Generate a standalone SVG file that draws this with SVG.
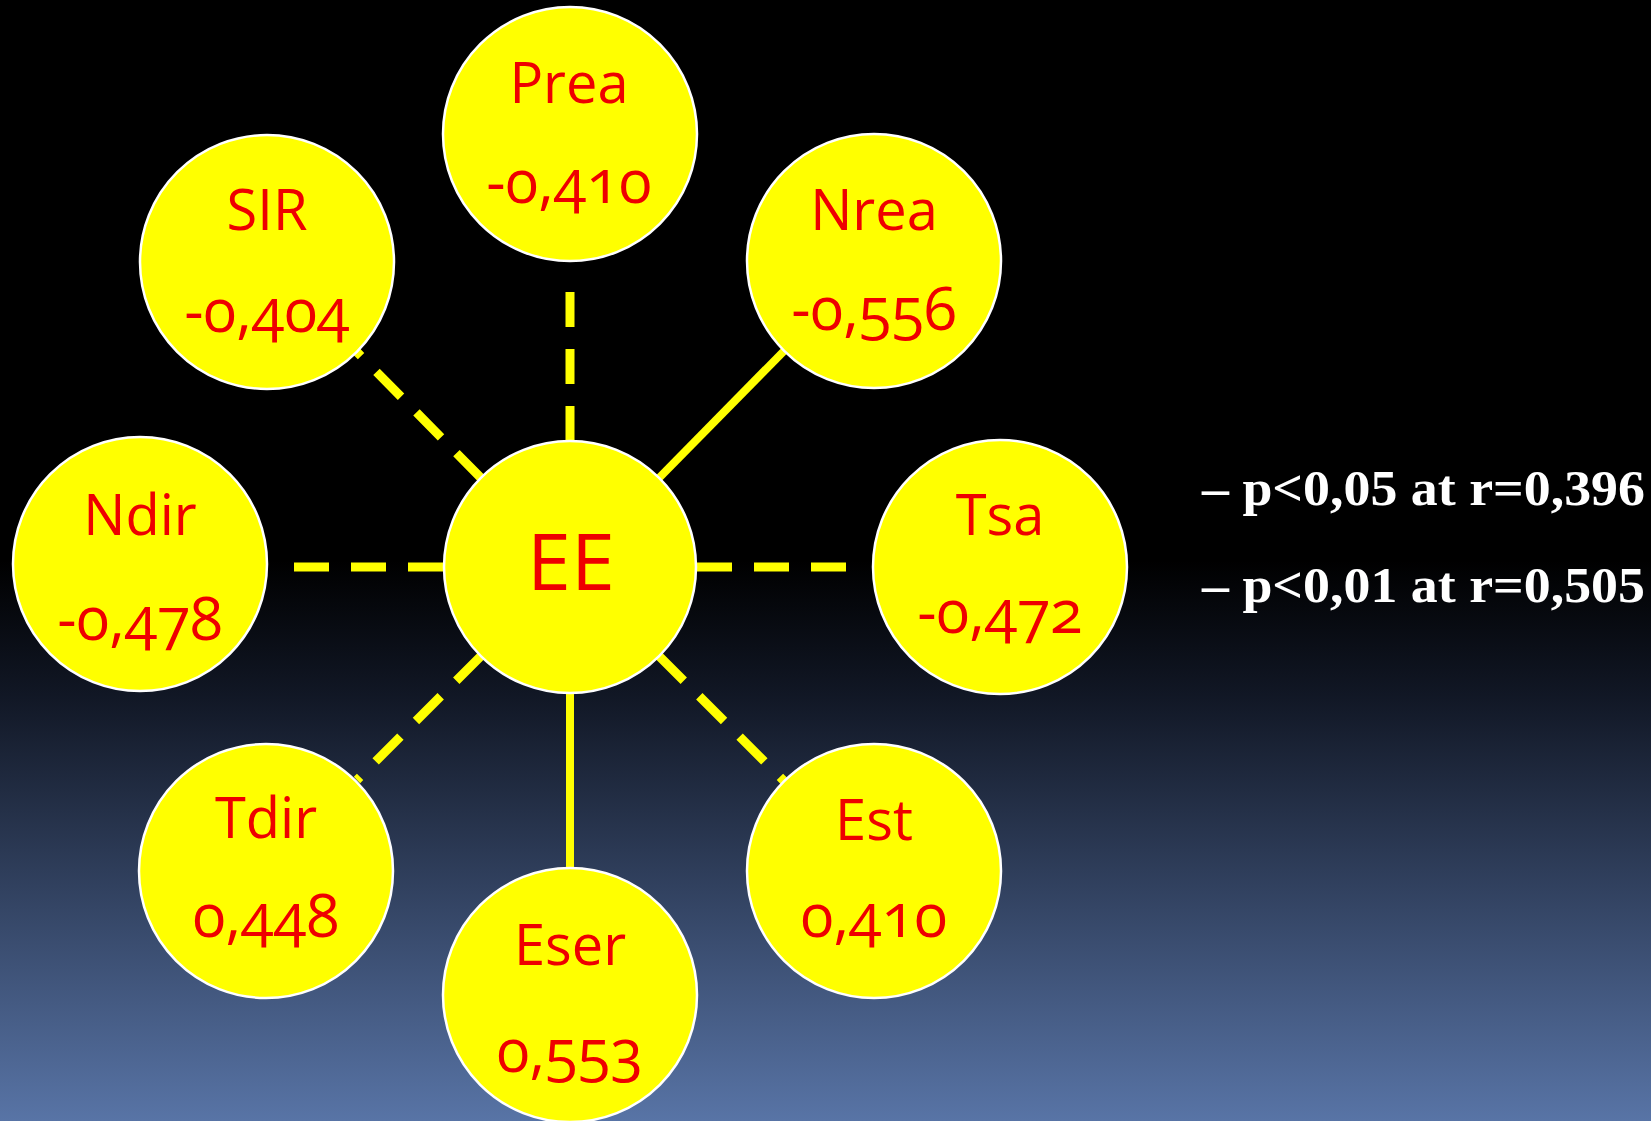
<svg xmlns="http://www.w3.org/2000/svg" width="1651" height="1121" viewBox="0 0 1651 1121">
  <defs>
    <linearGradient id="bg" x1="0" y1="0" x2="0" y2="1">
      <stop offset="0" stop-color="#000000"/>
      <stop offset="0.5" stop-color="#000000"/>
      <stop offset="0.62" stop-color="#111725"/>
      <stop offset="1" stop-color="#5874a6"/>
    </linearGradient>
    <style>
      .node { fill: #ffff00; stroke: #ffffff; stroke-width: 2.5; }
      .lbl { font-family: "Open Sans", "Noto Sans", sans-serif; font-size: 56px; fill: #ee0000; text-anchor: middle; }
      .val { font-size: 60px; font-variant-numeric: oldstyle-nums; font-feature-settings: "onum" 1; }
      .hub { font-size: 79px; }
      .solid { stroke: #ffff00; stroke-width: 8; fill: none; }
      .dash { stroke: #ffff00; stroke-width: 9; fill: none; stroke-dasharray: 35 22; }
      .legend { font-family: "Liberation Serif", "Times New Roman", serif; font-weight: bold; font-size: 50px; fill: #ffffff; }
    </style>
  </defs>

  <rect x="0" y="0" width="1651" height="1121" fill="url(#bg)"/>

  <!-- connectors: each drawn outward from the hub edge -->
  <g id="connectors">
    <line class="dash" x1="570" y1="441" x2="570" y2="290"/>
    <line class="solid" x1="659" y1="478" x2="784" y2="351"/>
    <line class="dash" x1="697" y1="567" x2="847" y2="567"/>
    <line class="dash" x1="659" y1="656" x2="784" y2="781"/>
    <line class="solid" x1="570" y1="693" x2="570" y2="869"/>
    <line class="dash" x1="481" y1="656" x2="357" y2="780"/>
    <line class="dash" x1="443" y1="567" x2="293" y2="567"/>
    <line class="dash" x1="481" y1="478" x2="357" y2="352"/>
  </g>

  <g id="node-EE">
    <circle class="node" cx="570" cy="567" r="126"/>
    <text class="lbl hub" x="571" y="590">EE</text>
  </g>
  <g id="node-Prea">
    <circle class="node" cx="570" cy="134" r="127"/>
    <text class="lbl" x="569" y="103">Prea</text>
    <text class="lbl val" x="569" y="203">-0,410</text>
  </g>
  <g id="node-Nrea">
    <circle class="node" cx="874" cy="261" r="127"/>
    <text class="lbl" x="874" y="230">Nrea</text>
    <text class="lbl val" x="874" y="330">-0,556</text>
  </g>
  <g id="node-Tsa">
    <circle class="node" cx="1000" cy="567" r="127"/>
    <text class="lbl" x="1000" y="535">Tsa</text>
    <text class="lbl val" x="1000" y="633">-0,472</text>
  </g>
  <g id="node-Est">
    <circle class="node" cx="874" cy="871" r="127"/>
    <text class="lbl" x="874" y="840">Est</text>
    <text class="lbl val" x="874" y="937">0,410</text>
  </g>
  <g id="node-Eser">
    <circle class="node" cx="570" cy="995" r="127"/>
    <text class="lbl" x="570" y="965">Eser</text>
    <text class="lbl val" x="570" y="1072">0,553</text>
  </g>
  <g id="node-Tdir">
    <circle class="node" cx="266" cy="871" r="127"/>
    <text class="lbl" x="266" y="838">Tdir</text>
    <text class="lbl val" x="266" y="937">0,448</text>
  </g>
  <g id="node-Ndir">
    <circle class="node" cx="140" cy="564" r="127"/>
    <text class="lbl" x="140" y="535">Ndir</text>
    <text class="lbl val" x="140" y="640">-0,478</text>
  </g>
  <g id="node-SIR">
    <circle class="node" cx="267" cy="262" r="127"/>
    <text class="lbl" x="267" y="230">SIR</text>
    <text class="lbl val" x="267" y="332">-0,404</text>
  </g>

  <g id="legend">
    <text class="legend" x="1202" y="505" textLength="443" lengthAdjust="spacingAndGlyphs">– p&lt;0,05 at r=0,396</text>
    <text class="legend" x="1202" y="602" textLength="443" lengthAdjust="spacingAndGlyphs">– p&lt;0,01 at r=0,505</text>
  </g>
</svg>
